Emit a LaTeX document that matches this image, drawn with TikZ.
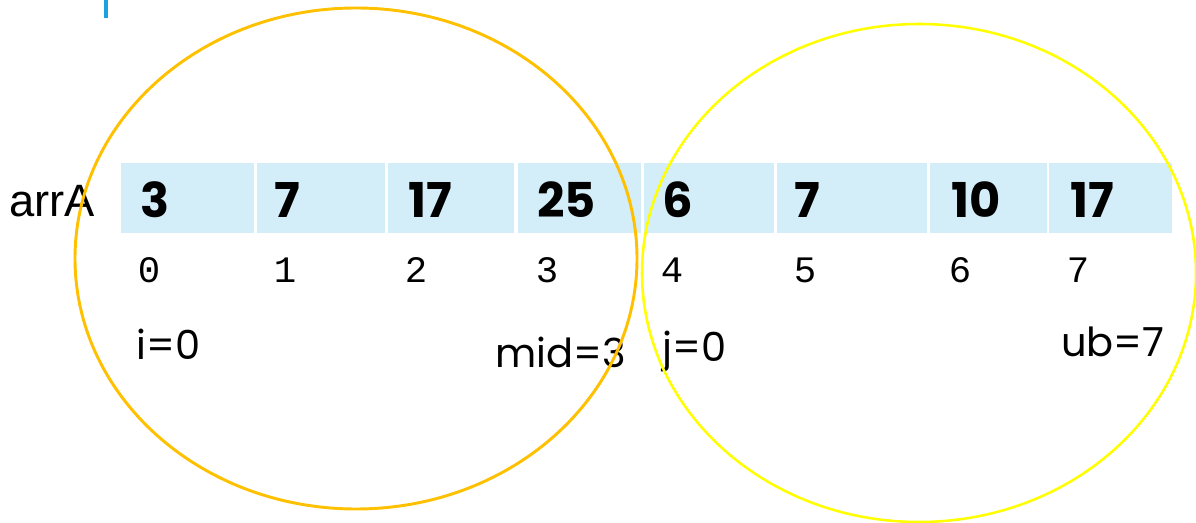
\documentclass[tikz,border=0pt]{standalone}
\usepackage{fontspec}
\newfontfamily\gothic{Poppins}
\newfontfamily\arial{Liberation Sans}
\newfontfamily\courier{Liberation Mono}
\definecolor{cellblue}{HTML}{D3EEF8}
\definecolor{ringorange}{HTML}{FFC000}
\definecolor{ringyellow}{HTML}{FFFF00}
\definecolor{barblue}{HTML}{1BA1E2}
\begin{document}
\begin{tikzpicture}[x=0.75pt,y=-0.75pt,
  val/.style={anchor=west,inner sep=0,font=\gothic\bfseries\fontsize{36}{36}\selectfont},
  idx/.style={anchor=center,inner sep=0,font=\courier\fontsize{28}{28}\selectfont},
  lbl/.style={anchor=base west,inner sep=0,font=\gothic\fontsize{30}{30}\selectfont},
  cellbox/.style={fill=cellblue}]
\useasboundingbox (0,0) rectangle (1196,523);
\fill[barblue] (104,0) rectangle (108,18);
% cells
\fill[cellbox] (121,163) rectangle (254,233);
\fill[cellbox] (257,163) rectangle (385,233);
\fill[cellbox] (388,163) rectangle (514,233);
\fill[cellbox] (518,163) rectangle (641,233);
\fill[cellbox] (644,163) rectangle (774,233);
\fill[cellbox] (777,163) rectangle (927,233);
\fill[cellbox] (930,163) rectangle (1047,233);
\fill[cellbox] (1049,163) rectangle (1172,233);
% values
\node[val] (v0) at (140,200) {3};
\node[val] (v1) at (274,200) {7};
\node[val] (v2) at (408,200) {17};
\node[val] (v3) at (537,200) {25};
\node[val] (v4) at (662,200) {6};
\node[val] (v5) at (794,200) {7};
\node[val] (v6) at (951,200) {10};
\node[val] (v7) at (1070,200) {17};
% indices
\node[idx] (i0) at (149,270) {0};
\node[idx] (i1) at (285,270) {1};
\node[idx] (i2) at (416,270) {2};
\node[idx] (i3) at (547,270) {3};
\node[idx] (i4) at (672,270) {4};
\node[idx] (i5) at (805,270) {5};
\node[idx] (i6) at (960,270) {6};
\node[idx] (i7) at (1078,270) {7};
% array name
\node[anchor=base west,inner sep=0,font=\arial\fontsize{34}{34}\selectfont] (arr) at (9,217) {arrA};
% labels
\node[lbl] (li) at (136,360) {i=0};
\node[lbl] (lmid) at (495,368) {mid=3};
\node[lbl] (lj) at (662,362) {j=0};
\node[lbl] (lub) at (1061,357) {ub=7};
% rings
\draw[ringorange,line width=2.2pt] (356,258.5) ellipse [x radius=281, y radius=250.5];
\draw[ringyellow,line width=1.9pt] (919,273) ellipse [x radius=277, y radius=249];
\end{tikzpicture}
\end{document}
